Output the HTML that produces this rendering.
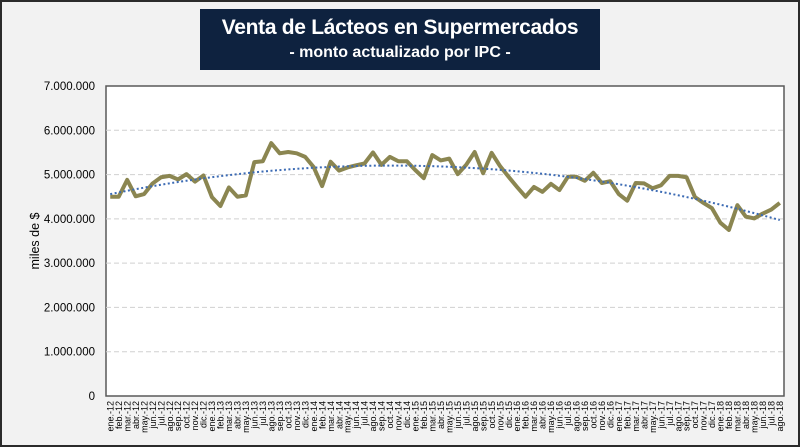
<!DOCTYPE html>
<html><head><meta charset="utf-8">
<style>
html,body{margin:0;padding:0;}
body{width:800px;height:447px;overflow:hidden;font-family:"Liberation Sans",sans-serif;}
#frame{position:absolute;left:0;top:0;width:796px;height:443px;border:2px solid #2b2b2b;background:#f2f2f2;}
#title-box{position:absolute;left:200px;top:9px;width:400px;height:61px;background:#0e223f;color:#fff;text-align:center;white-space:nowrap;overflow:hidden;}
#t1{font-size:21px;line-height:28px;margin-top:5px;font-weight:bold;letter-spacing:-0.3px;}
#t2{font-size:16px;line-height:22px;font-weight:bold;}
svg{position:absolute;left:0;top:0;}
</style></head>
<body>
<div id="frame"></div>
<div id="title-box">
<div id="t1">Venta de Lácteos en Supermercados</div>
<div id="t2">- monto actualizado por IPC -</div>
</div>
<svg id="chart" width="800" height="447"></svg>
<script>
const monthNames = ["ene.","feb.","mar.","abr.","may.","jun.","jul.","ago.","sep.","oct.","nov.","dic."];
const years = ["12","13","14","15","16","17","18"];
const sales = [4.50,4.50,4.88,4.51,4.56,4.80,4.94,4.97,4.89,5.01,4.84,4.98,
4.49,4.29,4.71,4.50,4.53,5.28,5.30,5.71,5.48,5.51,5.48,5.40,
5.17,4.74,5.29,5.09,5.16,5.21,5.25,5.50,5.22,5.40,5.30,5.30,
5.10,4.92,5.44,5.32,5.36,5.01,5.22,5.51,5.03,5.49,5.19,4.95,
4.72,4.50,4.72,4.61,4.79,4.65,4.95,4.95,4.86,5.04,4.81,4.85,
4.56,4.41,4.81,4.80,4.69,4.76,4.97,4.97,4.94,4.49,4.36,4.24,
3.91,3.75,4.31,4.05,4.01,4.12,4.21,4.36].map(v=>v*1000000);
const yTicks = [0,1000000,2000000,3000000,4000000,5000000,6000000,7000000];
const yTickLabels = ["0","1.000.000","2.000.000","3.000.000","4.000.000","5.000.000","6.000.000","7.000.000"];
const categories = [];
for (let i=0;i<sales.length;i++) categories.push(monthNames[i%12]+"-"+years[Math.floor(i/12)]);

const svg = document.getElementById('chart');
const NS = "http://www.w3.org/2000/svg";
const L=106,R=784,T=86,B=396,YMAX=7000000;
const step=(R-L)/categories.length;
function xS(i){return L+step*(i+0.5);}
function yS(v){return B-(v/YMAX)*(B-T);}
function mk(tag,attrs){const e=document.createElementNS(NS,tag);for(const k in attrs)e.setAttribute(k,attrs[k]);svg.appendChild(e);return e;}

const pa=mk('rect',{x:L,y:T,width:R-L,height:B-T,fill:'#fff',stroke:'#595959','stroke-width':1.5});



yTicks.forEach((v,k)=>{
  if(v>0 && v<YMAX){
    const g=mk('line',{x1:L,x2:R,y1:yS(v),y2:yS(v),stroke:'#d0d0d0','stroke-dasharray':'5,3','stroke-width':1});
    
    
  }
  const t=mk('text',{x:95,y:yS(v)+4,'text-anchor':'end','font-size':11.5,fill:'#000'});
  t.textContent=yTickLabels[k];
  
  
});
const yt=mk('text',{x:0,y:0,transform:'translate(39,241) rotate(-90)','text-anchor':'middle','font-size':12.5,fill:'#000'});
yt.textContent='miles de $';



categories.forEach((c,i)=>{
  const t=mk('text',{x:0,y:0,transform:`translate(${xS(i)+3.2},401) rotate(-90)`,'text-anchor':'end','font-size':9,fill:'#000'});
  t.textContent=c;
  
  
});

const ln=mk('polyline',{points:sales.map((v,i)=>xS(i)+','+yS(v)).join(' '),fill:'none',stroke:'#8b8651','stroke-width':4,'stroke-linejoin':'round'});



(function(){
  const n=sales.length;let S=[0,0,0,0,0],Sy=[0,0,0];
  for(let i=0;i<n;i++){const x=i/n;let p=1;for(let k=0;k<5;k++){S[k]+=p;if(k<3)Sy[k]+=sales[i]*p;p*=x;}}
  const A=[[S[0],S[1],S[2],Sy[0]],[S[1],S[2],S[3],Sy[1]],[S[2],S[3],S[4],Sy[2]]];
  for(let c=0;c<3;c++){for(let r=c+1;r<3;r++){const f=A[r][c]/A[c][c];for(let k=c;k<4;k++)A[r][k]-=f*A[c][k];}}
  const co=[0,0,0];for(let r=2;r>=0;r--){let s=A[r][3];for(let k=r+1;k<3;k++)s-=A[r][k]*co[k];co[r]=s/A[r][r];}
  const pts=[];for(let i=0;i<n;i++){const x=i/n;pts.push(xS(i)+','+yS(co[0]+co[1]*x+co[2]*x*x));}
  const tl=mk('polyline',{points:pts.join(' '),fill:'none',stroke:'#3c6bb4','stroke-width':2,'stroke-dasharray':'2,2.5'});
  
  
})();
</script>
</body></html>
